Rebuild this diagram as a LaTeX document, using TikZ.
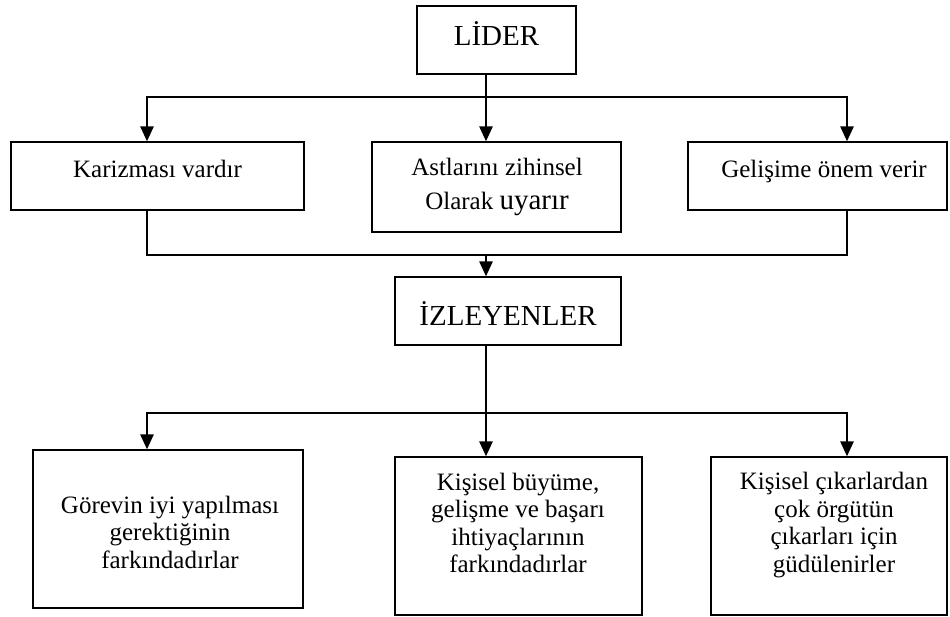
\documentclass[tikz,border=0pt]{standalone}
\usepackage{fontspec}
\setmainfont{Liberation Serif}
\usetikzlibrary{arrows.meta}
\begin{document}
\begin{tikzpicture}[x=1pt,y=-1pt,
  box/.style={draw, line width=1.5pt, rectangle, inner sep=0pt},
  body/.style={font=\fontsize{25}{27.5}\selectfont, align=center, inner sep=0pt},
  head/.style={font=\fontsize{29}{32}\selectfont, inner sep=0pt},
  link/.style={line width=1.5pt, line join=miter},
  flow/.style={link, -{Triangle[length=15pt,width=13.5pt]}}]
\useasboundingbox (0,0) rectangle (950,616);

% boxes
\node[box, minimum width=159pt, minimum height=68pt] (lider) at (496.5,40) {};
\node[box, minimum width=293pt, minimum height=68pt] (b1) at (157.5,176) {};
\node[box, minimum width=249pt, minimum height=90pt] (b2) at (496.5,187) {};
\node[box, minimum width=259pt, minimum height=68pt] (b3) at (817.5,176) {};
\node[box, minimum width=226pt, minimum height=68pt] (izl) at (508,311) {};
\node[box, minimum width=270pt, minimum height=158pt] (b4) at (168,529) {};
\node[box, minimum width=247pt, minimum height=158pt] (b5) at (518.5,536) {};
\node[box, minimum width=236pt, minimum height=158pt] (b6) at (829,536) {};

% texts
\node[head, anchor=base] (liderT) at (496.5,45) {LİDER};
\node[body, anchor=base] (b1T) at (157.5,177) {Karizması vardır};
\node[body] (b2T) at (497,187) {Astlarını zihinsel\\[7pt]Olarak {\fontsize{29}{32}\selectfont uyarır}};
\node[body, anchor=base] (b3T) at (824,177) {Gelişime önem verir};
\node[head, anchor=base] (izlT) at (508,325) {İZLEYENLER};
\node[body] (b4T) at (170,532) {Görevin iyi yapılması\\gerektiğinin\\farkındadırlar};
\node[body] (b5T) at (518,523) {Kişisel büyüme,\\gelişme ve başarı\\ihtiyaçlarının\\farkındadırlar};
\node[body] (b6T) at (834,525) {Kişisel çıkarlardan\\çok örgütün\\çıkarları için\\güdülenirler};

% junction points
\coordinate (jL) at (147,97);
\coordinate (jC) at (486,97);
\coordinate (jR) at (847,97);
\coordinate (mL) at (147,255);
\coordinate (mC) at (486,255);
\coordinate (mR) at (847,255);
\coordinate (bL) at (147,413);
\coordinate (bC) at (486,413);
\coordinate (bR) at (847,413);

% connectors
\draw[flow] (lider.south -| jC) -- (b2.north -| jC);
\draw[flow] (jC) -- (jL) -- (b1.north -| jL);
\draw[flow] (jC) -- (jR) -- (b3.north -| jR);
\draw[link] (b1.south -| mL) -- (mL) -- (mR) -- (b3.south -| mR);
\draw[flow] (mC) -- (izl.north -| mC);
\draw[flow] (izl.south -| bC) -- (b5.north -| bC);
\draw[flow] (bC) -- (bL) -- (b4.north -| bL);
\draw[flow] (bC) -- (bR) -- (b6.north -| bR);
\end{tikzpicture}
\end{document}
